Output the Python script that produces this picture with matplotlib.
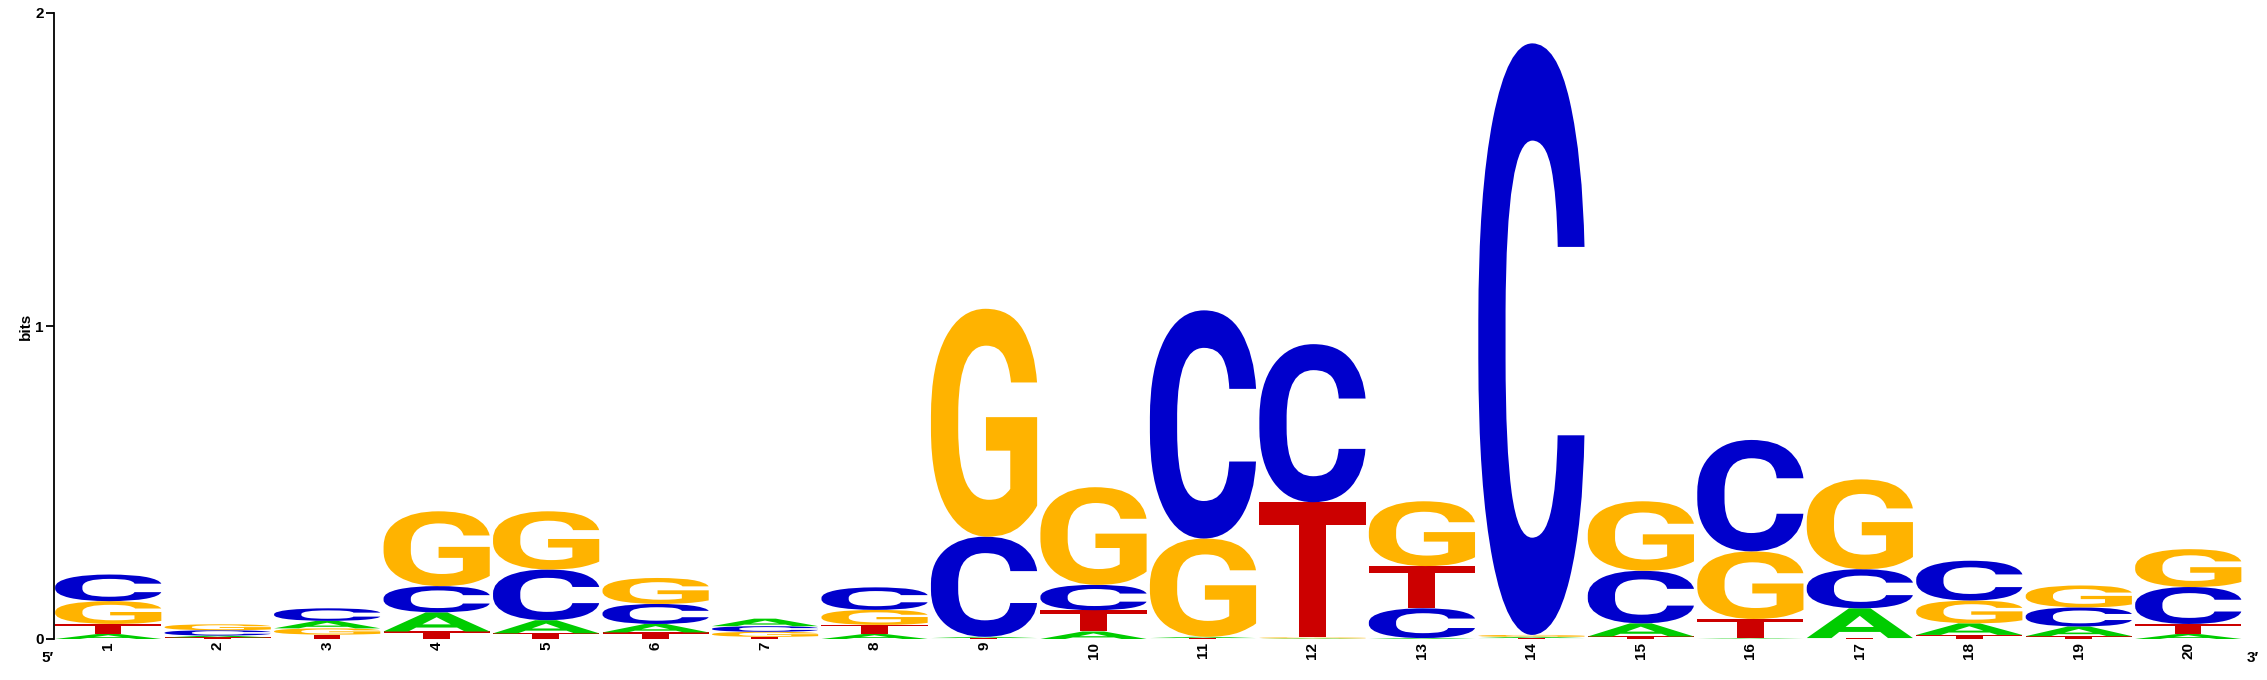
import matplotlib
matplotlib.use('Agg')
import matplotlib.pyplot as plt
from matplotlib.textpath import TextPath
from matplotlib.patches import PathPatch
from matplotlib.font_manager import FontProperties
from matplotlib.transforms import Affine2D

# information content (bits) per base, positions 1..20
positions = list(range(1, 21))
bits_A = [0.016, 0.006, 0.024, 0.061, 0.042, 0.027, 0.024, 0.016, 0.004, 0.024,
          0.004, 0.002, 0.003, 0.004, 0.042, 0.002, 0.095, 0.037, 0.031, 0.016]
bits_C = [0.085, 0.017, 0.040, 0.084, 0.162, 0.064, 0.018, 0.072, 0.320, 0.081,
          0.729, 0.505, 0.095, 1.890, 0.168, 0.356, 0.125, 0.127, 0.061, 0.118]
bits_G = [0.073, 0.019, 0.020, 0.239, 0.186, 0.083, 0.016, 0.048, 0.728, 0.312,
          0.314, 0.003, 0.207, 0.006, 0.222, 0.216, 0.287, 0.073, 0.070, 0.121]
bits_T = [0.032, 0.005, 0.014, 0.024, 0.018, 0.021, 0.007, 0.029, 0.003, 0.068,
          0.003, 0.432, 0.135, 0.003, 0.008, 0.062, 0.003, 0.013, 0.009, 0.032]

colors = {'A': '#00cc00', 'C': '#0000cc', 'G': '#ffb300', 'T': '#cc0000'}
glyph_font = FontProperties(family='Roboto', weight='bold')


def draw_letter(ax, letter, x, bottom, height, width=0.97):
    path = TextPath((0, 0), letter, size=1, prop=glyph_font)
    ext = path.get_extents()
    tr = (Affine2D()
          .translate(-ext.x0, -ext.y0)
          .scale(width / ext.width, height / ext.height)
          .translate(x - width / 2, bottom))
    ax.add_patch(PathPatch(tr.transform_path(path), facecolor=colors[letter],
                           edgecolor='none'))


W, H = 2267, 680
fig = plt.figure(figsize=(W / 100, H / 100), dpi=100)
x0, x1 = 53.5, 2243
y0, y2 = 639, 13
ax = fig.add_axes([x0 / W, (H - y0) / H, (x1 - x0) / W, (y0 - y2) / H])

for i, pos in enumerate(positions):
    stack = sorted([('A', bits_A[i]), ('C', bits_C[i]),
                    ('G', bits_G[i]), ('T', bits_T[i])], key=lambda t: t[1])
    bottom = 0.0
    for letter, h in stack:
        draw_letter(ax, letter, pos, bottom, h)
        bottom += h

ax.set_xlim(0.5, 20.5)
ax.set_ylim(0, 2)
for s in ['top', 'right', 'bottom']:
    ax.spines[s].set_visible(False)
ax.spines['left'].set_linewidth(1.3)
ax.set_yticks([0, 1, 2])
ax.set_xticks(positions)
lab_font = {'family': 'Liberation Sans', 'weight': 'bold', 'size': 11}
ax.set_yticklabels(['0', '1', '2'], fontdict=lab_font)
ax.set_xticklabels([str(p) for p in positions], fontdict=lab_font, rotation=90)
ax.tick_params(axis='x', length=0, pad=2)
ax.tick_params(axis='y', length=6, width=1.3, pad=1)
ax.set_ylabel('bits', fontdict=lab_font, labelpad=2)

fig.text(x0 / W, (H - 658) / H, '5\u2032', ha='right', va='center',
         family=['Liberation Sans', 'DejaVu Sans'], weight='bold', size=11)
fig.text((x1 + 4) / W, (H - 658) / H, '3\u2032', ha='left', va='center',
         family=['Liberation Sans', 'DejaVu Sans'], weight='bold', size=11)

fig.savefig('out.png', dpi=100)
